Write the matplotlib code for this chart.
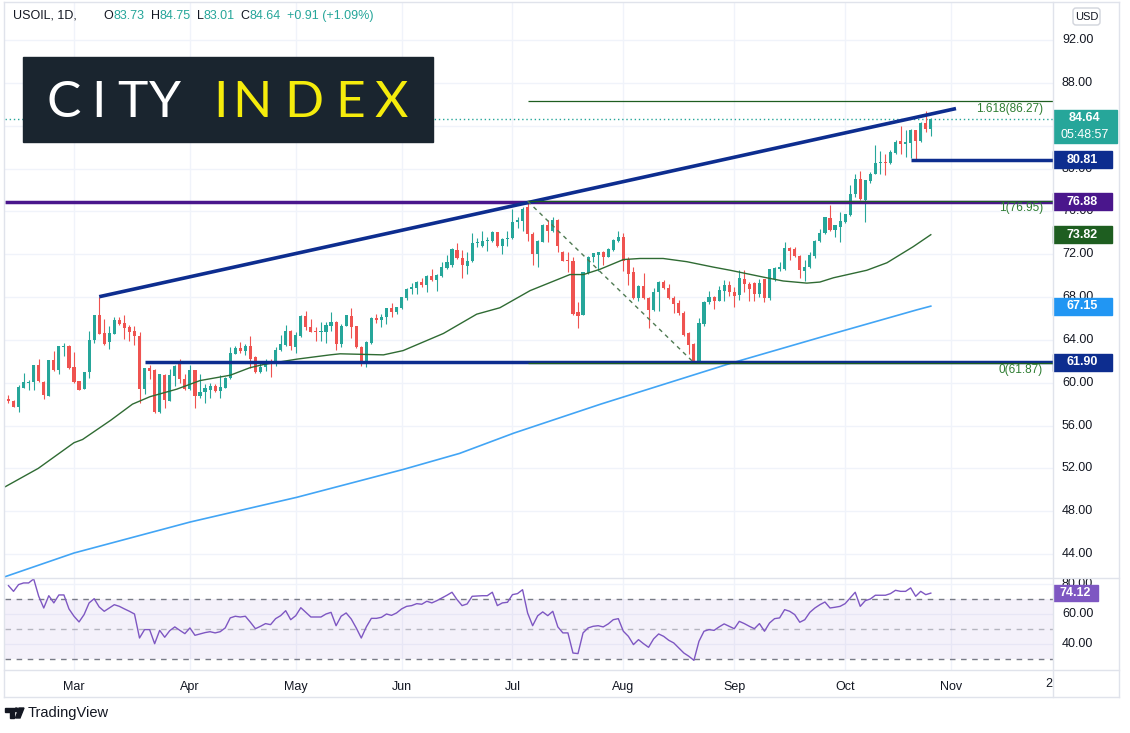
import numpy as np
import pandas as pd
import matplotlib
matplotlib.use("Agg")
import matplotlib.pyplot as plt
from matplotlib.patches import Rectangle, FancyBboxPatch, Polygon, Circle
from matplotlib.transforms import Affine2D

W, H = 1130, 733
TEAL = "#26a69a"
RED = "#ef5350"
NAVY = "#0d2d8f"
PURPLE = "#4a168c"
FIBGREEN = "#1e5e20"
GRID = "#f0f3fa"
BORDER = "#e0e3eb"
TXT = "#131722"
FONT = "Liberation Sans"

# USOIL daily bars, 10 Feb 2021 -> 26 Oct 2021 (no Good Friday bar)
opens = [
    58.44, 58.29, 57.76, 59.54, 60.01, 60.07, 61.66, 60.10, 58.79, 62.13, 61.16, 63.34, 63.44,  # Feb
    61.47, 60.16, 59.44, 61.00, 63.97, 66.28, 64.62, 63.78, 64.59, 65.84, 65.62, 65.22, 64.84,
    64.37, 59.44, 61.35, 61.16, 57.29, 60.69, 58.29, 60.63, 61.72, 60.32,  # Mar
    59.38, 61.19, 58.76, 59.16, 59.32, 59.69, 59.22, 59.54, 60.41, 62.72, 63.22, 62.97, 63.44,
    62.44, 61.01, 61.48, 61.82, 61.79, 63.04, 63.53, 64.85,  # Apr
    63.38, 64.32, 66.25, 65.22, 64.85, 64.78, 64.78, 65.31, 65.69, 63.66, 65.32, 66.25, 65.25,
    63.38, 62.04, 63.69, 66.00, 65.87, 66.10, 66.94, 66.56,  # May
    66.97, 67.87, 68.75, 68.81, 69.37, 69.15, 70.00, 69.59, 70.00, 70.71, 71.00, 72.40, 71.62,
    70.93, 71.34, 73.03, 72.80, 73.21, 73.21, 74.05, 72.74, 73.40,  # Jun
    73.49, 74.99, 75.08, 76.40, 73.90, 72.02, 73.18, 74.68, 74.15, 75.21, 72.24, 71.49, 71.34,
    66.63, 66.35, 70.22, 71.71, 71.96, 72.18, 71.77, 72.40, 73.27,  # Jul
    73.59, 71.56, 70.31, 67.90, 69.06, 67.90, 66.78, 68.44, 69.37, 68.84, 67.90, 67.40, 66.47,
    64.60, 63.60, 62.00, 65.47, 67.50, 67.97, 67.65, 68.59, 69.12,  # Aug
    68.44, 68.22, 69.68, 69.22, 69.28, 68.28, 69.68, 67.91, 69.68, 70.62, 70.62, 72.59, 72.49,
    71.87, 70.40, 70.78, 71.87, 73.27, 73.99, 75.40, 74.27, 74.58,  # Sep
    74.99, 75.62, 77.58, 79.05, 77.08, 78.83, 79.52, 80.52, 80.61, 80.52, 81.45, 82.57, 82.32,
    82.39, 83.57, 82.54, 84.26, 83.73,  # Oct
]
highs = [
    58.85, 58.35, 59.79, 60.91, 60.25, 61.70, 62.22, 60.12, 62.15, 62.97, 63.45, 63.75, 63.53,
    62.88, 60.20, 61.02, 64.84, 66.34, 68.03, 65.93, 65.31, 66.09, 66.15, 66.34, 65.40, 65.28,
    64.75, 61.41, 61.66, 61.25, 60.80, 60.79, 61.25, 61.63, 62.25, 60.85,
    61.66, 61.20, 60.79, 59.91, 60.01, 59.85, 60.72, 60.50, 63.34, 63.44, 63.81, 63.66, 64.38,
    62.50, 61.88, 62.19, 62.19, 63.29, 64.47, 65.41, 64.91,
    64.69, 66.30, 66.72, 65.94, 65.22, 65.69, 65.63, 66.63, 65.78, 65.47, 66.34, 66.97, 65.32,
    63.40, 63.85, 66.10, 66.41, 66.41, 66.97, 67.44, 67.10,
    68.03, 68.84, 69.28, 69.53, 69.78, 70.05, 70.62, 70.15, 71.25, 71.96, 72.60, 73.03, 72.40,
    72.18, 73.96, 73.52, 74.21, 73.59, 74.21, 74.10, 73.50, 74.21,
    76.24, 75.46, 76.40, 76.95, 74.05, 73.30, 74.83, 75.15, 75.52, 75.30, 72.30, 72.24, 71.71,
    67.56, 70.35, 71.87, 72.10, 72.20, 72.34, 72.59, 73.43, 74.21,
    73.96, 71.71, 70.78, 69.10, 70.21, 67.97, 68.84, 69.53, 69.59, 69.22, 68.12, 67.72, 66.66,
    64.78, 63.75, 66.03, 67.65, 68.59, 68.12, 69.06, 69.59, 69.53,
    68.90, 70.53, 70.53, 69.37, 69.37, 69.68, 69.70, 70.65, 70.84, 71.31, 73.12, 72.71, 72.71,
    71.96, 71.46, 72.18, 73.34, 74.37, 75.50, 76.64, 74.70, 75.93,
    75.77, 78.42, 79.45, 79.77, 78.90, 79.67, 82.17, 81.61, 81.39, 81.70, 82.64, 83.95, 83.63,
    83.73, 83.63, 84.35, 85.41, 84.75,
]
lows = [
    58.07, 57.70, 57.29, 59.50, 59.29, 59.32, 60.10, 58.51, 58.75, 61.10, 60.79, 62.50, 61.25,
    59.94, 59.29, 59.40, 60.47, 63.75, 64.53, 63.53, 63.13, 64.53, 65.37, 64.06, 63.91, 63.53,
    58.13, 58.91, 60.32, 57.20, 57.20, 57.60, 58.25, 59.69, 59.94, 59.32,
    59.35, 57.60, 58.60, 58.10, 58.60, 59.16, 58.60, 59.50, 60.32, 62.66, 62.75, 62.59, 61.41,
    60.94, 60.94, 61.10, 60.57, 61.57, 63.00, 63.44, 63.04,
    62.82, 64.30, 64.91, 64.69, 63.91, 63.91, 63.69, 64.85, 63.04, 63.29, 65.25, 64.22, 63.20,
    61.57, 61.51, 63.60, 65.53, 65.16, 65.47, 66.10, 66.41,
    66.88, 67.72, 68.28, 68.28, 68.90, 68.44, 69.53, 68.59, 69.84, 70.62, 70.84, 71.56, 69.75,
    70.15, 71.25, 72.65, 72.71, 72.27, 73.12, 72.71, 72.02, 72.80,
    73.43, 74.46, 74.21, 73.27, 71.03, 70.78, 73.12, 73.12, 74.05, 72.18, 71.35, 70.37, 66.35,
    65.07, 66.30, 70.15, 71.31, 70.46, 71.00, 71.71, 72.27, 73.12,
    70.46, 69.15, 67.85, 67.59, 67.81, 65.09, 66.72, 66.66, 68.75, 67.81, 66.47, 66.35, 64.38,
    62.66, 61.87, 61.95, 65.32, 67.34, 66.87, 67.59, 67.59, 68.12,
    67.09, 67.72, 68.44, 67.66, 67.59, 67.97, 67.50, 67.72, 69.53, 70.46, 70.55, 71.50, 71.71,
    69.78, 69.53, 70.70, 71.65, 73.12, 73.90, 74.21, 73.65, 73.12,
    74.90, 75.60, 77.33, 77.08, 74.99, 78.64, 79.50, 79.45, 79.36, 80.45, 81.39, 81.39, 81.08,
    81.02, 80.81, 82.48, 83.40, 83.01,
]
closes = [
    58.29, 57.76, 59.60, 60.07, 60.07, 61.66, 60.16, 58.82, 62.13, 61.16, 63.44, 63.44, 61.41,
    60.10, 59.35, 61.00, 63.97, 66.28, 64.59, 63.66, 64.62, 65.84, 65.47, 65.15, 64.69, 64.37,
    59.44, 61.35, 61.10, 57.29, 60.79, 58.35, 60.72, 61.57, 60.32, 59.38,
    61.19, 58.76, 59.16, 59.47, 59.69, 59.22, 59.60, 60.47, 62.81, 63.22, 62.97, 63.44, 62.26,
    61.01, 61.51, 61.94, 61.73, 63.07, 63.66, 64.85, 63.44,
    64.47, 66.25, 65.16, 64.78, 64.78, 64.85, 65.41, 65.69, 63.60, 65.32, 66.31, 65.16, 63.29,
    62.04, 63.82, 66.03, 65.87, 66.16, 66.94, 66.56, 67.03,
    67.97, 68.75, 68.90, 69.37, 69.15, 70.00, 69.59, 70.09, 70.84, 71.25, 72.49, 71.62, 71.00,
    71.40, 73.03, 73.12, 73.27, 73.34, 74.05, 72.74, 73.43, 73.52,
    75.05, 75.15, 76.24, 73.90, 72.02, 73.27, 74.68, 74.15, 75.21, 72.81, 71.40, 71.34, 66.41,
    66.25, 70.31, 71.77, 72.09, 72.18, 71.77, 72.49, 73.34, 73.65,
    71.40, 70.15, 67.90, 69.06, 67.90, 66.78, 68.44, 69.37, 68.84, 67.90, 67.34, 66.47, 64.47,
    63.53, 62.04, 65.53, 67.56, 67.97, 67.65, 68.66, 69.12, 68.44,
    68.12, 69.78, 69.22, 68.75, 68.28, 69.28, 67.91, 70.62, 70.68, 70.84, 72.59, 72.34, 71.81,
    70.53, 70.84, 71.96, 73.27, 73.96, 75.46, 74.27, 74.68, 75.08,
    75.71, 77.58, 79.05, 77.11, 78.89, 79.52, 80.55, 80.61, 80.52, 81.54, 82.48, 82.32, 82.48,
    83.57, 82.54, 84.26, 83.73, 84.64,
]

# RSI(14), one value per bar
rsi = [
    79.1, 75.3, 79.8, 80.9, 80.9, 83.6, 72.0, 64.2, 72.4, 67.6, 72.9, 72.9, 63.6,
    58.7, 54.9, 59.8, 67.6, 70.4, 64.9, 62.0, 64.2, 66.4, 65.3, 63.6, 62.0, 60.2,
    44.2, 49.8, 49.8, 40.4, 49.3, 44.7, 49.1, 51.6, 49.3, 47.1, 50.9, 46.0, 46.9, 47.8, 48.4,
    47.6, 48.4, 50.9,
    57.6, 58.7, 58.2, 58.7, 54.7, 50.4, 52.0, 53.8, 53.1, 57.1, 59.1, 62.4, 56.4, 59.1, 64.4,
    61.3, 58.2, 58.2, 58.2, 60.2,
    61.3, 52.4, 58.7, 60.9, 56.9, 50.9, 44.2, 51.6, 57.3, 57.3, 58.0, 60.2, 59.3, 60.9, 63.6,
    65.3, 65.8, 67.1, 66.7, 68.7,
    67.6, 69.1, 70.9, 72.7, 74.7, 69.8, 65.8, 66.9, 72.0, 72.2, 72.4, 72.4, 74.7, 65.8, 67.6,
    68.0, 73.1, 73.8, 76.4, 60.9, 52.4, 59.0,
    61.6, 59.1, 62.0, 51.6, 47.6, 47.6, 34.2, 33.8, 47.6,
    50.9, 52.0, 52.4, 51.6, 53.6, 56.4, 57.1, 48.7, 45.3, 39.8, 43.1, 40.4, 38.0, 43.6, 46.9,
    45.3, 42.7, 40.9, 37.6, 34.2, 32.0, 29.3,
    42.0, 48.7, 49.8, 49.3, 51.6, 53.6, 52.0, 50.4, 55.3, 53.8, 52.0, 50.4, 53.8, 48.7, 54.2,
    57.1, 57.6, 63.1, 62.0, 59.8, 54.7, 56.4, 61.3, 64.2, 66.4, 68.2, 64.2,
    64.7, 65.3, 67.1, 70.9, 74.7, 65.3, 69.1, 70.2, 72.7, 72.7, 72.7, 73.8, 76.0, 75.3, 75.3,
    77.6, 72.0, 75.3, 73.1, 74.12,
]

# moving averages (bar number from 1 Mar, value)
ma50_x = [-13.6, -7.1, 0, 1.7, 7.3, 11.6, 15.1, 20.4, 25.0, 31.0, 34.9, 37.6, 44.2, 50.8, 52.8,
          61.4, 65.3, 73.3, 79.9, 84.5, 90.5, 98.4, 101.1, 104.4, 109.0, 112.3, 116.9, 121.6,
          126.8, 130.2, 137.4, 140.7, 145.4, 148.0, 150.7, 157.3, 161.3, 166.5, 170.0]
ma50_v = [50.3, 52.0, 54.4, 54.7, 56.5, 58.0, 58.7, 59.4, 60.2, 60.7, 61.4, 61.7, 62.2, 62.6, 62.7,
          62.6, 63.0, 64.6, 66.4, 67.0, 68.6, 70.1, 70.1, 70.6, 71.5, 71.6, 71.6, 71.3,
          70.8, 70.5, 69.8, 69.5, 69.3, 69.4, 69.8, 70.5, 71.2, 72.7, 73.82]
ma200_x = [-13.6, 0, 23.1, 44.2, 65.3, 76.5, 87.3, 104.5, 130.2, 150.0, 167.2, 170.0]
ma200_v = [41.9, 44.1, 47.0, 49.3, 51.9, 53.4, 55.3, 58.0, 61.8, 64.5, 66.8, 67.15]

# drawn levels
trend_x = [5, 175]
trend_v = [68.03, 85.60]
res_level = 76.88
sup_level = 61.90
sup_start = 14
near_level = 80.81
near_start = 166
fib_start, fib_end = 90, 123
fib_levels = [86.27, 76.95, 61.87]
fib_labels = ["1.618(86.27)", "1(76.95)", "0(61.87)"]
last_price = 84.64

price_ticks = np.arange(44, 93, 4)

opens, highs, lows, closes = map(np.array, (opens, highs, lows, closes))

dates = pd.bdate_range("2021-02-10", "2021-10-26")
dates = dates[dates != pd.Timestamp("2021-04-02")]
x = np.arange(len(dates)) - dates.get_loc(pd.Timestamp("2021-03-01"))

month_pos, month_lab = [], []
for m in range(3, 11):
    i = int(np.argmax(dates.month == m))
    month_pos.append(x[i])
    month_lab.append(dates[i].strftime("%b"))
month_pos.append(x[-1] + len(pd.bdate_range("2021-10-27", "2021-11-01")))
month_lab.append("Nov")

# pixel geometry
PL, PR, RE = 5, 1052.7, 1119
PT, PB, RB = 3, 578.3, 670
BAR_PX, X0_PX = 5.04, 74
PX_PER_USD, Y92 = 10.71, 40
RSI_PX, Y80 = 1.5, 584.3

xlim = ((PL - X0_PX) / BAR_PX, (PR - X0_PX) / BAR_PX)
plim = (92 - (PB - Y92) / PX_PER_USD, 92 + (Y92 - PT) / PX_PER_USD)
rlim = (80 - (RB - Y80) / RSI_PX, 80 + (Y80 - PB) / RSI_PX)

fig = plt.figure(figsize=(W / 100, H / 100), dpi=100)
fig.patch.set_facecolor("white")
pix = Affine2D().scale(1 / W, -1 / H).translate(0, 1) + fig.transFigure


def rect(l, t, r, b):
    return [l / W, 1 - b / H, (r - l) / W, (b - t) / H]


ax = fig.add_axes(rect(PL, PT, PR, PB))
axr = fig.add_axes(rect(PL, PB, PR, RB))
sp = fig.add_axes(rect(PR, PT, RE, PB))
sr = fig.add_axes(rect(PR, PB, RE, RB))

for a in (ax, axr):
    a.set_xlim(*xlim)
    for s in a.spines.values():
        s.set_visible(False)
    a.set_xticks(month_pos)
    a.grid(True, color=GRID, lw=1)
    a.set_axisbelow(True)
    a.tick_params(length=0, labelleft=False, labelbottom=False)
ax.set_ylim(*plim)
ax.set_yticks(price_ticks)
axr.set_ylim(*rlim)
axr.set_yticks([40, 60, 80])
axr.tick_params(labelbottom=True, pad=8, labelsize=9, labelcolor=TXT)
axr.set_xticklabels(month_lab, fontfamily=FONT)
sp.set_ylim(*plim)
sr.set_ylim(*rlim)
for a in (sp, sr):
    a.set_xlim(0, 1)
    a.axis("off")

# candles
up = closes >= opens
col = np.where(up, TEAL, RED)
ax.vlines(x, lows, highs, colors=col, lw=0.8, zorder=2)
ax.bar(x, np.maximum(np.abs(closes - opens), 0.08), bottom=np.minimum(opens, closes),
       width=0.62, color=col, lw=0, zorder=2.1)

# moving averages
ax.plot(ma200_x, ma200_v, color="#42a5f5", lw=1.2, zorder=3)
ax.plot(ma50_x, ma50_v, color="#2f6b33", lw=1.0, zorder=3)

# levels and trendline
ax.axhline(last_price, color=TEAL, lw=1, ls=(0, (1, 2)), zorder=1.5)
ax.hlines(res_level, xlim[0], xlim[1], color=PURPLE, lw=2.5, zorder=4)
ax.hlines(sup_level, sup_start, xlim[1], color=NAVY, lw=2.5, zorder=4)
ax.hlines(near_level, near_start, xlim[1], color=NAVY, lw=2.5, zorder=4)
ax.plot(trend_x, trend_v, color=NAVY, lw=2.6, zorder=4, solid_capstyle="butt")

# fibonacci extension
ax.hlines(fib_levels, fib_start, xlim[1], color=FIBGREEN, lw=0.9, zorder=4.5)
ax.plot([fib_start, fib_end], [fib_levels[1], fib_levels[2]], color="#4f7a52", lw=1,
        ls=(0, (3, 3)), zorder=4.5)
lab_x = (1043 - X0_PX) / BAR_PX
for lv, lb in zip(fib_levels, fib_labels):
    ax.text(lab_x, lv - 0.12, lb, ha="right", va="top", color="#2e7d32", fontsize=8.5,
            fontfamily=FONT, zorder=5)

# RSI pane
axr.axhspan(30, 70, color="#7e57c2", alpha=0.08, lw=0)
for lv, al in ((70, 1), (50, 0.5), (30, 1)):
    axr.axhline(lv, color="#787b86", lw=1, ls=(0, (4, 4)), alpha=al)
axr.plot(x, rsi, color="#7e57c2", lw=1, zorder=3)

# price scale (84.00 sits fully under the last-price badge)
for t in price_ticks:
    if t == 84:
        continue
    sp.text(0.14, t, f"{t:.2f}", ha="left", va="center", fontsize=9, color=TXT,
            fontfamily=FONT, clip_on=True)
box_w = 59 / (RE - PR)
box_h = 17 / PX_PER_USD
for lv, c in ((near_level, NAVY), (res_level, PURPLE), (ma50_v[-1], FIBGREEN),
              (ma200_v[-1], "#2196f3"), (sup_level, NAVY)):
    sp.add_patch(Rectangle((0, lv - box_h / 2), box_w, box_h, color=c, zorder=5, clip_on=False))
    sp.text(box_w / 2, lv, f"{lv:.2f}", ha="center", va="center", color="white",
            fontsize=9, fontweight="bold", fontfamily=FONT, zorder=6)
top = last_price + 8.5 / PX_PER_USD
bot = last_price - 24 / PX_PER_USD
sp.add_patch(Rectangle((0, bot), 64 / (RE - PR), top - bot, color=TEAL, zorder=5))
sp.text(32 / (RE - PR), last_price + 0.05, f"{last_price:.2f}", ha="center", va="center",
        color="white", fontsize=9, fontweight="bold", fontfamily=FONT, zorder=6)
sp.text(32 / (RE - PR), last_price - 16 / PX_PER_USD, "05:48:57", ha="center",
        va="center", color="white", fontsize=9, fontfamily=FONT, zorder=6)

# RSI scale
for t in (80, 60, 40):
    sr.text(0.14, t, f"{t:.2f}", ha="left", va="center", fontsize=9, color=TXT,
            fontfamily=FONT, clip_on=True)
rh = 16.7 / RSI_PX
sr.add_patch(Rectangle((0, rsi[-1] - rh / 2), 45 / (RE - PR), rh, color="#7e57c2", zorder=5))
sr.text(22.5 / (RE - PR), rsi[-1], f"{rsi[-1]:.2f}", ha="center", va="center", color="white",
        fontsize=9, fontweight="bold", fontfamily=FONT, zorder=6)

# frame lines
for (x1, y1, x2, y2) in ((PL - 1, 2, RE, 2), (PL - 1, PB, RE, PB), (PL - 1, RB, RE, RB),
                         (PL - 1, 697, RE, 697), (PL - 1, 2, PL - 1, 697), (PR, 2, PR, 697),
                         (RE, 2, RE, 697)):
    fig.add_artist(plt.Line2D([x1, x2], [y1, y2], color=BORDER, lw=1, transform=pix))
fig.text(1048.7, 684, "2", transform=pix, ha="center", va="center", fontsize=9, color=TXT,
         fontfamily=FONT)

# header legend, laid out piece by piece
rend = fig.canvas.get_renderer()
hx = 13
for s, c, gap in (("USOIL, 1D,", TXT, 27), ("O", TXT, 0), ("83.73", TEAL, 6), ("H", TXT, 0),
                  ("84.75", TEAL, 6), ("L", TXT, 0), ("83.01", TEAL, 6), ("C", TXT, 0),
                  ("84.64", TEAL, 6), ("+0.91 (+1.09%)", TEAL, 0)):
    t = fig.text(hx, 16, s, transform=pix, va="center", fontsize=9, color=c, fontfamily=FONT)
    hx += t.get_window_extent(renderer=rend).width + gap

# USD badge
fig.add_artist(FancyBboxPatch((1073, 8), 27, 17, boxstyle="round,pad=0,rounding_size=3",
                              fc="white", ec="#d1d4dc", lw=1, transform=pix))
fig.text(1086.5, 16.5, "USD", transform=pix, ha="center", va="center", fontsize=8, color=TXT,
         fontfamily=FONT)

# City Index logo
fig.add_artist(Rectangle((23, 57), 410, 85, color="#1a252f", transform=pix))
for px, ch, c in ((63.5, "C", "white"), (99, "I", "white"), (132, "T", "white"),
                  (165, "Y", "white"), (221, "I", "#f5ec0c"), (252, "N", "#f5ec0c"),
                  (304, "D", "#f5ec0c"), (350, "E", "#f5ec0c"), (391, "X", "#f5ec0c")):
    fig.text(px, 117, ch, transform=pix, ha="center", va="baseline", fontsize=37, color=c,
             fontfamily="Lato", fontweight="normal")

# TradingView mark
fig.add_artist(Polygon([(5, 708), (14, 708), (14, 718), (10, 718), (10, 711.5), (5, 711.5)],
                       color=TXT, transform=pix))
fig.add_artist(Circle((16.3, 709.8), 1.8, color=TXT, transform=pix))
fig.add_artist(Polygon([(19, 708), (24, 708), (20, 718), (15.5, 718)], color=TXT, transform=pix))
fig.text(28, 713, "TradingView", transform=pix, va="center", fontsize=10.5, color=TXT,
         fontfamily=FONT)

fig.savefig("out.png", dpi=100, facecolor="white")
